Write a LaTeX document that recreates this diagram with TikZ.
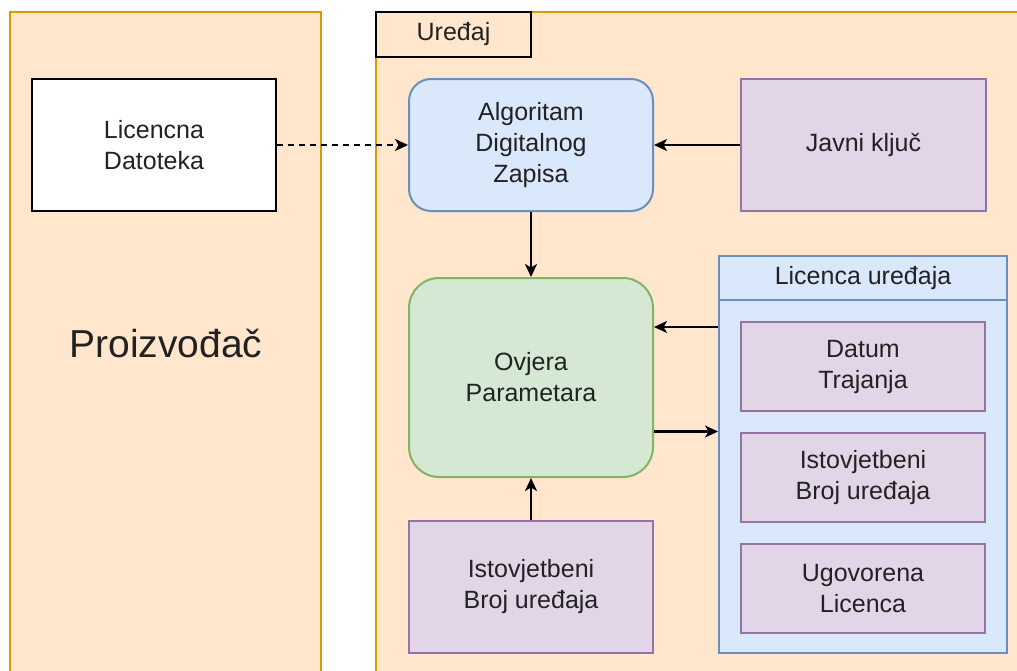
\documentclass[tikz,border=0pt]{standalone}
\usepackage{fontspec}
\setmainfont{Liberation Sans}
\usetikzlibrary{arrows.meta,calc}
\definecolor{poolfill}{HTML}{FFE6CC}
\definecolor{poolline}{HTML}{D79B00}
\definecolor{bluefill}{HTML}{DAE8FC}
\definecolor{blueline}{HTML}{6C8EBF}
\definecolor{greenfill}{HTML}{D5E8D4}
\definecolor{greenline}{HTML}{82B366}
\definecolor{purpfill}{HTML}{E1D5E7}
\definecolor{purpline}{HTML}{9673A6}
\definecolor{txt}{HTML}{222222}
\tikzset{
  base/.style={rectangle, line width=2pt, anchor=north west, inner sep=0pt, align=center, text=txt,
    font=\fontsize{25}{31}\selectfont},
  pool/.style={base, draw=poolline, fill=poolfill},
  plain/.style={base, draw=black, fill=white},
  tabbox/.style={base, draw=black, fill=poolfill},
  bluebox/.style={base, draw=blueline, fill=bluefill},
  greenbox/.style={base, draw=greenline, fill=greenfill},
  purpbox/.style={base, draw=purpline, fill=purpfill},
  tip/.style={-{Stealth[length=13pt,width=12pt,inset=3.5pt]}},
  arr/.style={line width=2.2pt, draw=black, tip},
}
\begin{document}
\begin{tikzpicture}[x=1pt,y=-1pt]
\useasboundingbox (0,0) rectangle (1017,670);
% pools
\node[pool, minimum width=311pt, minimum height=690pt] (prod) at (9,11) {};
\node[txt, font=\fontsize{39}{44}\selectfont] (prodlabel) at (166,343) {Proizvođač};
\node[pool, minimum width=660pt, minimum height=690pt] (dev) at (375,11) {};
\node[tabbox, minimum width=155pt, minimum height=45pt] (tab) at (375,11) {Uređaj};
% nodes
\node[plain, minimum width=244pt, minimum height=132pt] (lic) at (31,78) {Licencna\\Datoteka};
\node[bluebox, rounded corners=22pt, minimum width=244pt, minimum height=132pt] (alg) at (408,78) {Algoritam\\Digitalnog\\Zapisa};
\node[purpbox, minimum width=245pt, minimum height=132pt] (key) at (740,78) {Javni ključ};
\node[greenbox, rounded corners=30pt, minimum width=244pt, minimum height=199pt] (ovj) at (408,277) {Ovjera\\Parametara};
\node[purpbox, minimum width=244pt, minimum height=132pt] (ist) at (408,520) {Istovjetbeni\\Broj uređaja};
% container
\node[bluebox, minimum width=288pt, minimum height=397pt] (cont) at (718,255) {};
\node[base, minimum width=288pt, minimum height=44pt, draw=blueline, fill=bluefill] (conthead) at (718,255) {Licenca uređaja};
\node[purpbox, minimum width=244pt, minimum height=89pt] (dat) at (740,321) {Datum\\Trajanja};
\node[purpbox, minimum width=244pt, minimum height=89pt] (ist2) at (740,432) {Istovjetbeni\\Broj uređaja};
\node[purpbox, minimum width=244pt, minimum height=89pt] (ugo) at (740,543) {Ugovorena\\Licenca};
% connector ports
\coordinate (cin) at ([yshift=-72pt]cont.north west);
\coordinate (oin) at (cin -| ovj.east);
\coordinate (oout) at ([yshift=-54pt]ovj.east);
\coordinate (cout) at (oout -| cont.west);
% connectors
\draw[line width=2pt, dash pattern=on 6pt off 5pt, tip] (lic.east) -- (alg.west);
\draw[arr] (key.west) -- (alg.east);
\draw[arr] (alg.south) -- (ovj.north);
\draw[arr] (ist.north) -- (ovj.south);
\draw[arr] (cin) -- (oin);
\draw[arr] (oout) -- (cout);
\end{tikzpicture}
\end{document}
